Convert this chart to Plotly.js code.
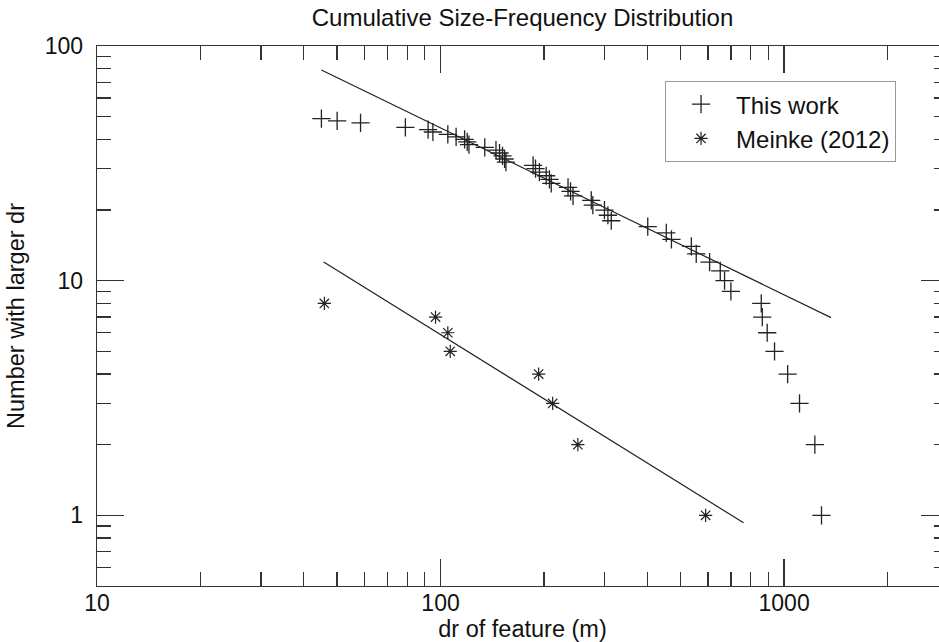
<!DOCTYPE html>
<html>
<head>
<meta charset="utf-8">
<script src="https://cdn.plot.ly/plotly-3.0.1.min.js"></script>
<style>
  html, body { margin: 0; padding: 0; background: #fff; overflow: hidden; }
  #chart { width: 950px; height: 642px; }
</style>
</head>
<body>
<div id="chart"></div>
<script>
// ---- data ----
const thisWorkX = [45, 50, 58.5, 79, 92, 95, 105, 111, 117.5, 119.6, 121, 134.5, 145, 148.5, 151.5, 153.6, 155,
                   186, 189, 194, 203, 207.5, 210, 235, 239, 243, 274.6, 277.5, 300, 307, 314, 401, 454, 470,
                   537, 555, 607, 652, 671, 700, 858, 864, 893, 938, 1024, 1109, 1229, 1285];
const thisWorkN = [49, 48, 47, 45, 44, 43, 42, 41, 40, 39, 38, 37, 36, 35, 34, 33, 32,
                   31, 30, 29, 28, 27, 26, 25, 24, 23, 22, 21, 20, 19, 18, 17, 16, 15,
                   14, 13, 12, 11, 10, 9, 8, 7, 6, 5, 4, 3, 2, 1];

const meinkeX = [45.9, 96.7, 105, 106.7, 193, 212, 251, 591];
const meinkeN = [8, 7, 6, 5, 4, 3, 2, 1];

const fitThisX = [45, 1370];
const fitThisY = [79, 6.96];
const fitMeinkeX = [45.7, 762];
const fitMeinkeY = [12, 0.93];

const xTickVals = [10, 100, 1000];
const xTickText = ['10', '100', '1000'];
const yTickVals = [1, 10, 100];
const yTickText = ['1', '10', '100'];

const chartTitle = 'Cumulative Size-Frequency Distribution';
const xTitle = 'dr of feature (m)';
const yTitle = 'Number with larger dr';
const seriesNames = ['This work', 'Meinke (2012)'];

// minor tick values (2..9 times each decade)
function minorVals(decades) {
  const out = [];
  decades.forEach(d => { for (let k = 2; k <= 9; k++) out.push(k * d); });
  return out;
}
const xMinor = minorVals([10, 100, 1000]);
const yMinor = minorVals([0.1, 1, 10]);

const ink = '#222';
const FONT = 'Liberation Sans, Arial, Helvetica, sans-serif';

const traces = [
  { x: thisWorkX, y: thisWorkN, type: 'scatter', mode: 'markers', name: seriesNames[0],
    marker: { symbol: 'cross-thin-open', size: 13, color: ink, line: { width: 1.3, color: ink } } },
  { x: meinkeX, y: meinkeN, type: 'scatter', mode: 'markers', name: seriesNames[1],
    marker: { symbol: 'asterisk-open', size: 11, color: ink, line: { width: 1.2, color: ink } } },
  { x: fitThisX, y: fitThisY, type: 'scatter', mode: 'lines', showlegend: false,
    line: { color: ink, width: 1.2 }, hoverinfo: 'skip' },
  { x: fitMeinkeX, y: fitMeinkeY, type: 'scatter', mode: 'lines', showlegend: false,
    line: { color: ink, width: 1.2 }, hoverinfo: 'skip' }
];

const axisCommon = {
  type: 'log',
  tickmode: 'array',
  ticks: 'inside',
  ticklen: 27,
  tickwidth: 1.3,
  tickcolor: '#333',
  showline: true,
  linecolor: '#333',
  linewidth: 1.3,
  mirror: 'allticks',
  showgrid: false,
  zeroline: false,
  tickfont: { family: FONT, size: 23, color: '#111' }
};

const layout = {
  width: 950,
  height: 642,
  margin: { l: 97, r: 2, t: 46, b: 56 },
  paper_bgcolor: '#fff',
  plot_bgcolor: '#fff',
  font: { family: FONT, size: 23, color: '#111' },
  title: { text: chartTitle, x: 0.5, xref: 'paper', y: 0.973, yanchor: 'middle',
           font: { family: FONT, size: 24, color: '#111' } },
  xaxis: Object.assign({}, axisCommon, {
    range: [1, Math.log10(3000)],
    tickvals: xTickVals, ticktext: xTickText,
    ticklabelstandoff: -4,
    minor: { tickmode: 'array', tickvals: xMinor, ticks: 'inside', ticklen: 14, tickwidth: 1.3, tickcolor: '#333', showgrid: false },
    title: { text: xTitle, standoff: 14, font: { family: FONT, size: 23.5, color: '#111' } }
  }),
  yaxis: Object.assign({}, axisCommon, {
    range: [Math.log10(0.5), 2],
    tickvals: yTickVals, ticktext: yTickText,
    ticklabelstandoff: 8,
    minor: { tickmode: 'array', tickvals: yMinor, ticks: 'inside', ticklen: 14, tickwidth: 1.3, tickcolor: '#333', showgrid: false },
    title: { text: yTitle, standoff: 13, font: { family: FONT, size: 23.5, color: '#111' } }
  }),
  legend: {
    x: 0.6675, xanchor: 'left', y: 0.935, yanchor: 'top',
    bgcolor: '#fff', bordercolor: '#999', borderwidth: 1,
    itemwidth: 60,
    font: { family: FONT, size: 24, color: '#111' }
  },
  showlegend: true
};

Plotly.newPlot('chart', traces, layout, { displayModeBar: false, staticPlot: true });
</script>
</body>
</html>
